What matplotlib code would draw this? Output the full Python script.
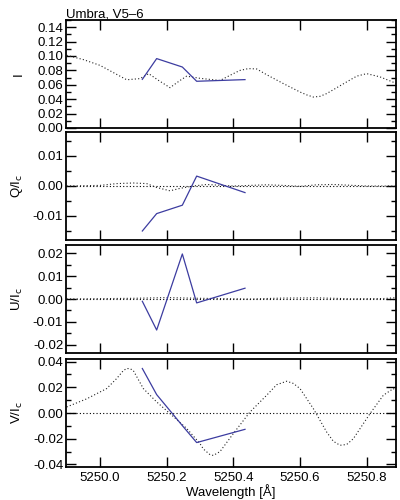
import matplotlib
matplotlib.use("Agg")
import matplotlib.pyplot as plt
from matplotlib.ticker import MultipleLocator

plt.rcParams['font.family'] = ['Liberation Sans', 'DejaVu Sans']
plt.rcParams['font.size'] = 9.5

# observed samples (blue)
obs_wl = [5250.127, 5250.17, 5250.247, 5250.29, 5250.435]
obs_I = [0.0676, 0.0964, 0.0847, 0.0649, 0.0672]
obs_Q = [-0.0150, -0.0092, -0.0064, 0.0033, -0.0022]
obs_U = [-0.0010, -0.0135, 0.0196, -0.0017, 0.0047]
obs_V = [0.0346, 0.0143, -0.0098, -0.0230, -0.0127]

# synthetic profiles (dotted)
syn_wl_I = [5249.90, 5249.95, 5250.00, 5250.04, 5250.08, 5250.12, 5250.146,
            5250.176, 5250.21, 5250.24, 5250.26, 5250.30, 5250.36, 5250.40,
            5250.42, 5250.445, 5250.47, 5250.50, 5250.55, 5250.60, 5250.62,
            5250.64, 5250.66, 5250.68, 5250.74, 5250.77, 5250.80, 5250.84, 5250.89]
syn_I = [0.101, 0.095, 0.087, 0.077, 0.067, 0.0686, 0.0755,
         0.066, 0.056, 0.066, 0.072, 0.069, 0.066, 0.0755,
         0.080, 0.0825, 0.082, 0.074, 0.0617, 0.050, 0.046,
         0.043, 0.044, 0.0478, 0.064, 0.072, 0.0755, 0.071, 0.0617]

syn_wl_Q = [5249.90, 5250.00, 5250.05, 5250.10, 5250.14, 5250.17, 5250.21,
            5250.24, 5250.28, 5250.32, 5250.40, 5250.50, 5250.55, 5250.60,
            5250.65, 5250.70, 5250.80, 5250.89]
syn_Q = [0.0, 0.0002, 0.0008, 0.0010, 0.0008, -0.0005, -0.0016,
         -0.0008, 0.0, 0.0005, 0.0, 0.0004, 0.0002, -0.0001,
         0.0004, 0.0005, 0.0, 0.0]

syn_wl_U = [5249.90, 5250.10, 5250.20, 5250.30, 5250.45, 5250.55, 5250.65,
            5250.75, 5250.85, 5250.89]
syn_U = [0.0, 0.0003, 0.0006, 0.0003, 0.0, 0.0004, 0.0005, 0.0001, 0.0002, 0.0006]

syn_wl_V = [5249.90, 5249.96, 5250.02, 5250.05, 5250.07, 5250.08, 5250.09,
            5250.10, 5250.13, 5250.17, 5250.21, 5250.26, 5250.30, 5250.31,
            5250.33, 5250.34, 5250.36, 5250.40, 5250.45, 5250.50, 5250.53,
            5250.56, 5250.58, 5250.60, 5250.64, 5250.68, 5250.70, 5250.72,
            5250.74, 5250.76, 5250.81, 5250.85, 5250.88, 5250.89]
syn_V = [0.0047, 0.011, 0.019, 0.0268, 0.033, 0.0346, 0.0345,
         0.033, 0.019, 0.0086, -0.0005, -0.012, -0.0238, -0.028,
         -0.0324, -0.033, -0.030, -0.016, 0.0008, 0.0138, 0.022,
         0.0247, 0.023, 0.019, 0.0034, -0.0148, -0.022, -0.0251,
         -0.0245, -0.020, -0.0005, 0.0138, 0.019, 0.017]

blue = '#3c3ca0'
dot = (0, (1, 2))

fig = plt.figure(figsize=(4, 5), dpi=100)

panels = [
    (0.744, syn_wl_I, syn_I, obs_I, 'I', (0, 0.15), 0.02, 0.01, False),
    (0.520, syn_wl_Q, syn_Q, obs_Q, r'Q/I$_\mathrm{c}$', (-0.018, 0.018), 0.01, 0.005, True),
    (0.294, syn_wl_U, syn_U, obs_U, r'U/I$_\mathrm{c}$', (-0.0235, 0.0235), 0.01, 0.005, True),
    (0.066, syn_wl_V, syn_V, obs_V, r'V/I$_\mathrm{c}$', (-0.042, 0.042), 0.02, 0.01, True),
]

axes = []
for bottom, swl, sy, oy, lab, ylim, maj, mnr, zero in panels:
    ax = fig.add_axes([0.165, bottom, 0.825, 0.216])
    if zero:
        ax.axhline(0, color='black', lw=0.8, ls=dot)
    ax.plot(swl, sy, color='#222222', lw=0.8, ls=dot)
    ax.plot(obs_wl, oy, color=blue, lw=0.9)
    ax.set_xlim(5249.898, 5250.888)
    ax.set_ylim(*ylim)
    ax.xaxis.set_major_locator(MultipleLocator(0.2))
    ax.yaxis.set_major_locator(MultipleLocator(maj))
    ax.yaxis.set_minor_locator(MultipleLocator(mnr))
    ax.yaxis.set_major_formatter(plt.FormatStrFormatter('%.2f'))
    ax.tick_params(which='both', direction='in', top=True, right=True, width=1)
    ax.tick_params(which='major', length=7)
    ax.tick_params(which='minor', length=3.5)
    ax.tick_params(axis='x', which='minor', length=0)
    ax.tick_params(axis='y', pad=2)
    for s in ax.spines.values():
        s.set_linewidth(1.3)
    ax.set_ylabel(lab)
    ax.yaxis.set_label_coords(-0.125, 0.5)
    axes.append(ax)

for ax in axes[:-1]:
    ax.tick_params(labelbottom=False)

axes[0].set_title('Umbra, V5\u20136', loc='left', pad=2, fontsize=9.5)
axes[-1].xaxis.set_major_formatter(plt.FormatStrFormatter('%.1f'))
axes[-1].set_xlabel('Wavelength [\u00c5]', labelpad=0)

fig.savefig('out.png', dpi=100)
